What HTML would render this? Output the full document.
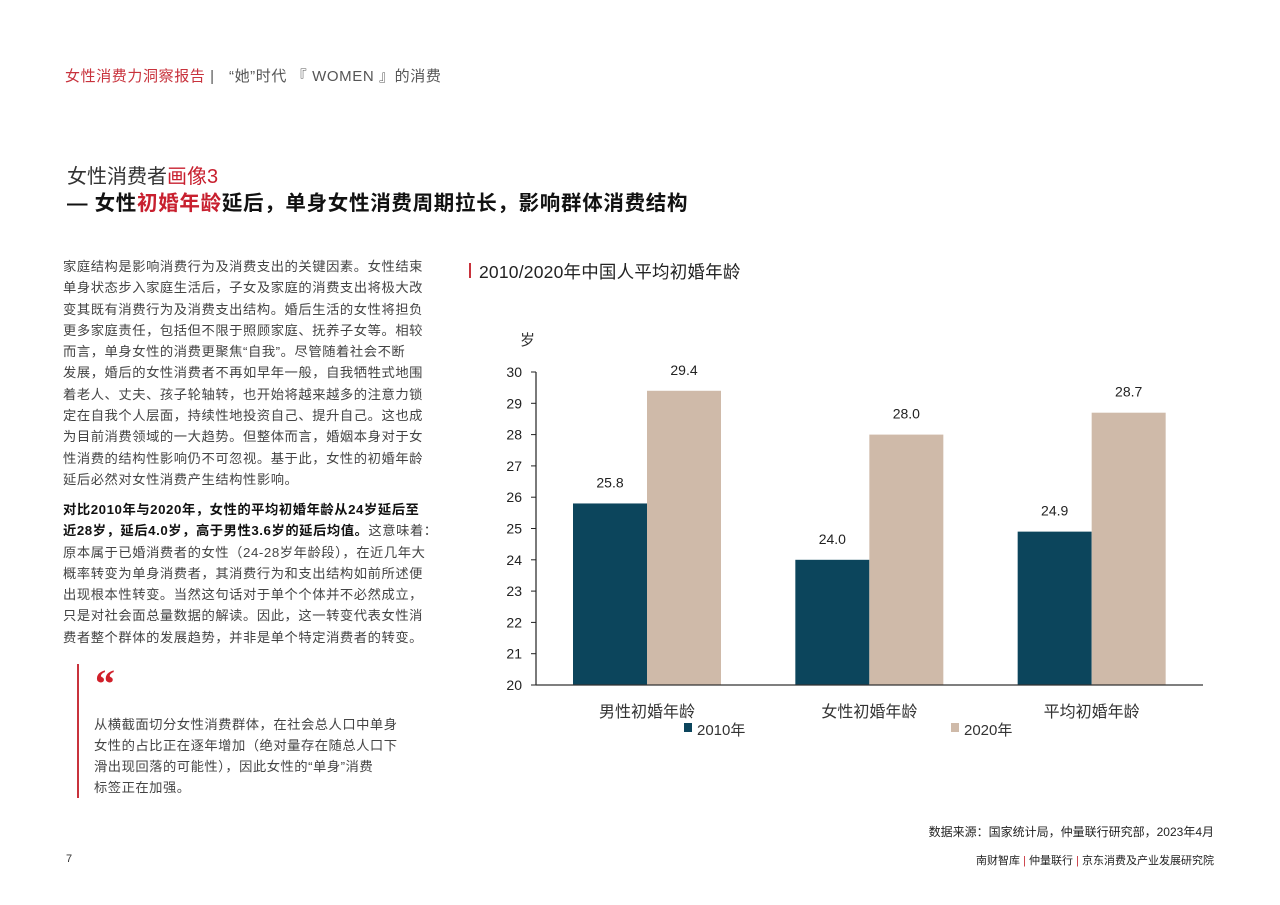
<!DOCTYPE html>
<html><head><meta charset="utf-8">
<style>
body{margin:0;background:#fff;}
#page{position:relative;width:1280px;height:905px;overflow:hidden;font-family:"Liberation Sans","Noto Sans CJK SC",sans-serif;color:#333;}
.abs{position:absolute;white-space:nowrap;}
.ln{height:21.3px;line-height:21.3px;font-size:13.3px;color:#444;letter-spacing:0.55px;}
</style></head>
<body>
<div id="page">
<div class="abs" style="left:65px;top:65px;font-size:15px;letter-spacing:0.6px"><span style="color:#c8323c">女性消费力洞察报告</span><span style="color:#555"> |&nbsp;&nbsp;&nbsp;“她”时代 『 WOMEN 』的消费</span></div>
<div class="abs" style="left:67px;top:160px;font-size:20px;color:#333">女性消费者<span style="color:#c8202f">画像3</span></div>
<div class="abs" style="left:67px;top:186px;font-size:20.5px;font-weight:bold;color:#111;letter-spacing:0.7px">— 女性<span style="color:#c8202f">初婚年龄</span>延后，单身女性消费周期拉长，影响群体消费结构</div>

<div class="abs" style="left:63px;top:256px;">
<div class="ln">家庭结构是影响消费行为及消费支出的关键因素。女性结束</div>
<div class="ln">单身状态步入家庭生活后，子女及家庭的消费支出将极大改</div>
<div class="ln">变其既有消费行为及消费支出结构。婚后生活的女性将担负</div>
<div class="ln">更多家庭责任，包括但不限于照顾家庭、抚养子女等。相较</div>
<div class="ln">而言，单身女性的消费更聚焦“自我”。尽管随着社会不断</div>
<div class="ln">发展，婚后的女性消费者不再如早年一般，自我牺牲式地围</div>
<div class="ln">着老人、丈夫、孩子轮轴转，也开始将越来越多的注意力锁</div>
<div class="ln">定在自我个人层面，持续性地投资自己、提升自己。这也成</div>
<div class="ln">为目前消费领域的一大趋势。但整体而言，婚姻本身对于女</div>
<div class="ln">性消费的结构性影响仍不可忽视。基于此，女性的初婚年龄</div>
<div class="ln">延后必然对女性消费产生结构性影响。</div>
</div>
<div class="abs" style="left:63px;top:499px;">
<div class="ln" style="font-weight:bold;color:#111">对比2010年与2020年，女性的平均初婚年龄从24岁延后至</div>
<div class="ln"><b style="color:#111">近28岁，延后4.0岁，高于男性3.6岁的延后均值。</b>这意味着：</div>
<div class="ln">原本属于已婚消费者的女性（24-28岁年龄段），在近几年大</div>
<div class="ln">概率转变为单身消费者，其消费行为和支出结构如前所述便</div>
<div class="ln">出现根本性转变。当然这句话对于单个个体并不必然成立，</div>
<div class="ln">只是对社会面总量数据的解读。因此，这一转变代表女性消</div>
<div class="ln">费者整个群体的发展趋势，并非是单个特定消费者的转变。</div>
</div>

<div class="abs" style="left:77px;top:664px;width:2px;height:134px;background:#c8323c"></div>
<div class="abs" style="left:95px;top:660px;font-size:40px;font-weight:bold;color:#d0202a;font-family:'Liberation Serif',serif">“</div>
<div class="abs" style="left:94px;top:714px;font-size:13.3px;line-height:21px;color:#444;letter-spacing:0.5px">从横截面切分女性消费群体，在社会总人口中单身<br>女性的占比正在逐年增加（绝对量存在随总人口下<br>滑出现回落的可能性），因此女性的“单身”消费<br>标签正在加强。</div>

<div class="abs" style="left:469px;top:263px;width:2px;height:15px;background:#c8323c"></div>
<div class="abs" style="left:479px;top:259px;font-size:17.5px;color:#222;letter-spacing:0.2px">2010/2020年中国人平均初婚年龄</div>

<svg class="abs" style="left:0;top:0" width="1280" height="905" id="chart"></svg>

<div class="abs" style="right:66px;top:823px;font-size:12px;color:#222">数据来源：国家统计局，仲量联行研究部，2023年4月</div>
<div class="abs" style="left:66px;top:853px;font-size:11px;color:#333">7</div>
<div class="abs" style="right:66px;top:852px;font-size:11px;color:#222">南财智库 <span style="color:#c8323c">|</span> 仲量联行 <span style="color:#c8323c">|</span> 京东消费及产业发展研究院</div>
</div>
<script>
const categories=["男性初婚年龄","女性初婚年龄","平均初婚年龄"];
const series2010=[25.8,24.0,24.9];
const series2020=[29.4,28.0,28.7];
const yTicks=[20,21,22,23,24,25,26,27,28,29,30];
const seriesNames=["2010年","2020年"];
const NS="http://www.w3.org/2000/svg";
const svg=document.getElementById('chart');
const X0=536,X1=1203,Y0=685,Y1=372,YMIN=20,YMAX=30;
const y=v=>Y0-(v-YMIN)/(YMAX-YMIN)*(Y0-Y1);
const gw=(X1-X0)/categories.length;
const gx=i=>X0+gw*i;
const BW=74;
function mk(t,a){const e=document.createElementNS(NS,t);for(const k in a)e.setAttribute(k,a[k]);svg.appendChild(e);return e;}
const cols=["#0c455c","#cfbaa9"];
[series2010,series2020].forEach((s,si)=>{
 s.forEach((v,i)=>{
  const x=gx(i)+37+si*BW;
  const r=mk('rect',{x:x,y:y(v),width:BW,height:Y0-y(v),fill:cols[si]});
  
  
  const t=mk('text',{x:x+BW/2,y:y(v)-16,'text-anchor':'middle','font-size':14,fill:'#222','font-family':'Liberation Sans, Noto Sans CJK SC, sans-serif'});
  t.textContent=v.toFixed(1);
  
  
 });
});
const ax=mk('line',{x1:X0,y1:Y1,x2:X0,y2:Y0,stroke:'#222','stroke-width':1.2});


const bx=mk('line',{x1:X0,y1:Y0,x2:X1,y2:Y0,stroke:'#333','stroke-width':1.2});


yTicks.forEach(v=>{
 mk('line',{x1:X0-5,y1:y(v),x2:X0,y2:y(v),stroke:'#222'});
 const t=mk('text',{x:X0-14,y:y(v)+5,'text-anchor':'end','font-size':14,fill:'#222','font-family':'Liberation Sans, sans-serif'});
 t.textContent=v;
 
 
});
const u=mk('text',{x:520,y:345,'font-size':15,fill:'#333','font-family':'Noto Sans CJK SC, sans-serif'});
u.textContent='岁';


categories.forEach((c,i)=>{
 const t=mk('text',{x:gx(i)+37+BW,y:717,'text-anchor':'middle','font-size':16,fill:'#333','font-family':'Noto Sans CJK SC, sans-serif'});
 t.textContent=c;
 
 
});
[684,951].forEach((lx,si)=>{
 const r=mk('rect',{x:lx,y:723,width:8,height:9,fill:cols[si]});
 
 
 const t=mk('text',{x:lx+13,y:735,'font-size':15,fill:'#333','font-family':'Liberation Sans, Noto Sans CJK SC, sans-serif'});
 t.textContent=seriesNames[si];
 
 
});
</script>
</body></html>
